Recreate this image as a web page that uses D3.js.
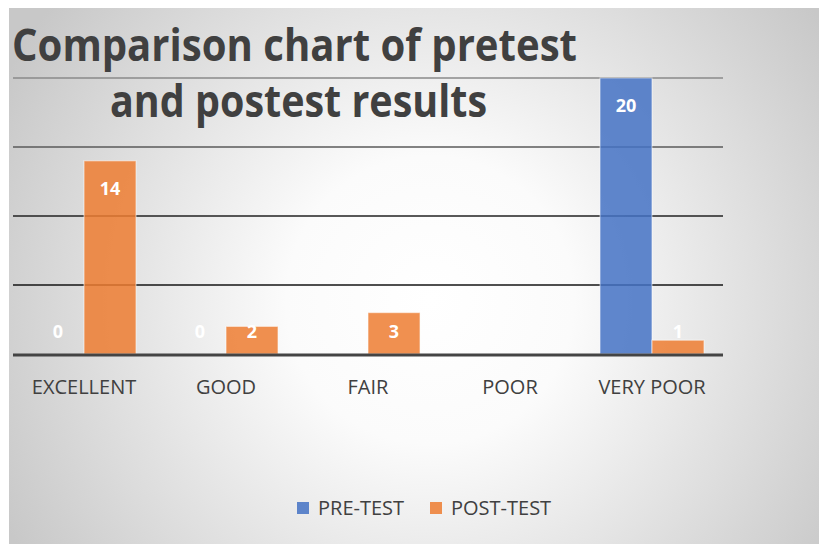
<!DOCTYPE html>
<html>
<head>
<meta charset="utf-8">
<script src="https://cdn.jsdelivr.net/npm/d3@7"></script>
<style>
  body { margin: 0; background: #fff; }
  svg { display: block; }
  text { font-family: "Open Sans", "Noto Sans", sans-serif; }
</style>
</head>
<body>
<div id="chart"></div>
<script>
// chart data
const categories = ['EXCELLENT', 'GOOD', 'FAIR', 'POOR', 'VERY POOR'];
const seriesNames = ['PRE-TEST', 'POST-TEST'];
const preTest = [0, 0, null, null, 20];
const postTest = [14, 2, 3, null, 1];
const gridValues = [5, 10, 15, 20];
const titleLines = ['Comparison chart of pretest', 'and postest results'];

const colors = { 'PRE-TEST': '#4472c4', 'POST-TEST': '#ed7d31' };

const width = 819, height = 544;
const plot = { left: 13, right: 723, top: 78, bottom: 354 };

const svg = d3.select('#chart').append('svg')
    .attr('width', width)
    .attr('height', height);

// background gradient
const defs = svg.append('defs');
const grad = defs.append('radialGradient')
    .attr('id', 'bg')
    .attr('gradientUnits', 'userSpaceOnUse')
    .attr('cx', 430).attr('cy', 300).attr('r', 480);
grad.append('stop').attr('offset', '0%').attr('stop-color', '#ffffff');
grad.append('stop').attr('offset', '30%').attr('stop-color', '#fbfbfb');
grad.append('stop').attr('offset', '100%').attr('stop-color', '#c8c8c8');

svg.append('rect')
    .attr('x', 9).attr('y', 8)
    .attr('width', width - 9).attr('height', height - 8)
    .attr('fill', 'url(#bg)');

const x0 = d3.scaleBand()
    .domain(categories)
    .range([plot.left, plot.right])
    .paddingInner(0)
    .paddingOuter(0);

const x1 = d3.scaleBand()
    .domain(seriesNames)
    .range([0, x0.bandwidth()])
    .paddingInner(0)
    .paddingOuter(0.365);

const y = d3.scaleLinear()
    .domain([0, 20])
    .range([plot.bottom, plot.top]);

// gridlines
const gridColors = ['#141414', '#222222', '#5a5a5a', '#8a8a8a'];
svg.append('g').selectAll('line')
    .data(gridValues)
    .join('line')
    .attr('x1', plot.left).attr('x2', plot.right)
    .attr('y1', d => y(d)).attr('y2', d => y(d))
    .attr('stroke', (d, i) => gridColors[i])
    .attr('stroke-width', 1.6);

// bars
const rows = categories.map((c, i) => ({
    cat: c,
    vals: [
        { key: 'PRE-TEST', value: preTest[i] },
        { key: 'POST-TEST', value: postTest[i] }
    ]
}));

const groups = svg.append('g').selectAll('g')
    .data(rows)
    .join('g')
    .attr('transform', d => `translate(${x0(d.cat)},0)`);

groups.selectAll('rect')
    .data(d => d.vals.filter(v => v.value !== null && v.value > 0))
    .join('rect')
    .attr('x', d => x1(d.key))
    .attr('width', x1.bandwidth())
    .attr('y', d => y(d.value))
    .attr('height', d => y(0) - y(d.value))
    .attr('fill', d => colors[d.key])
    .attr('fill-opacity', 0.85)
    .attr('stroke', '#ffffff')
    .attr('stroke-opacity', 0.5)
    .attr('stroke-width', 1.2);

groups.selectAll('text')
    .data(d => d.vals.filter(v => v.value !== null))
    .join('text')
    .attr('x', d => x1(d.key) + x1.bandwidth() / 2)
    .attr('y', d => Math.min(y(d.value) + 28, y(0) - 22))
    .attr('dy', '0.35em')
    .attr('text-anchor', 'middle')
    .attr('fill', '#ffffff')
    .attr('font-weight', 700)
    .attr('font-size', 18)
    .text(d => d.value);

// baseline
svg.append('line')
    .attr('x1', plot.left).attr('x2', plot.right)
    .attr('y1', y(0) + 1).attr('y2', y(0) + 1)
    .attr('stroke', '#444444')
    .attr('stroke-width', 3);

// category axis labels
const xAxis = d3.axisBottom(x0).tickSize(0).tickPadding(0);
const ax = svg.append('g')
    .attr('transform', `translate(0,${y(0) + 33})`)
    .call(xAxis);
ax.select('.domain').remove();
ax.selectAll('text')
    .attr('font-family', '"Open Sans", sans-serif')
    .attr('font-size', 20)
    .attr('fill', '#404040')
    .attr('dy', '0.35em');

// title
const title = svg.append('g')
    .attr('fill', '#404040')
    .attr('font-weight', 700)
    .attr('font-size', 44);
title.append('text')
    .attr('x', 12).attr('y', 61)
    .attr('textLength', 565)
    .attr('lengthAdjust', 'spacingAndGlyphs')
    .text(titleLines[0]);
title.append('text')
    .attr('x', 110).attr('y', 117)
    .attr('textLength', 377)
    .attr('lengthAdjust', 'spacingAndGlyphs')
    .text(titleLines[1]);

// legend
const legendX = [297, 430];
const legend = svg.append('g').selectAll('g')
    .data(seriesNames)
    .join('g')
    .attr('transform', (d, i) => `translate(${legendX[i]},502)`);
legend.append('rect')
    .attr('width', 12).attr('height', 12)
    .attr('fill', d => colors[d])
    .attr('fill-opacity', 0.85);
legend.append('text')
    .attr('x', 21).attr('y', 6)
    .attr('dy', '0.35em')
    .attr('font-size', 20)
    .attr('fill', '#404040')
    .text(d => d);
</script>
</body>
</html>
